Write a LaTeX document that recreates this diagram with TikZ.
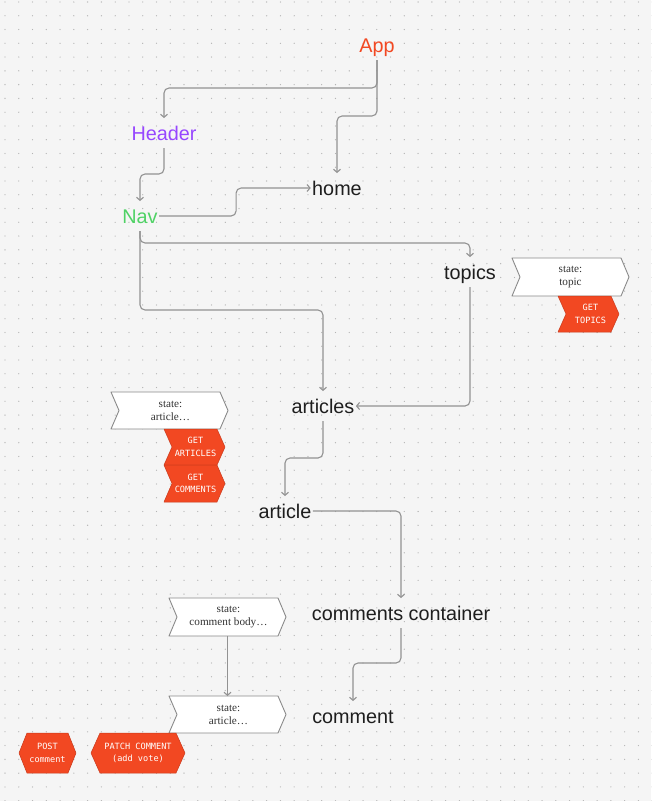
\documentclass[tikz,border=0pt]{standalone}
\usepackage{fontspec}
\setmainfont{Liberation Sans}
\newfontfamily\serifbox{Liberation Serif}
\newfontfamily\monotag{DejaVu Sans Mono}
\usetikzlibrary{arrows.meta,calc}
\definecolor{bgcol}{HTML}{F5F5F5}
\definecolor{dotcol}{HTML}{B4B4B4}
\definecolor{conncol}{HTML}{929292}
\definecolor{boxborder}{HTML}{8A8A8A}
\definecolor{tagred}{HTML}{F24822}
\definecolor{tagedge}{HTML}{C93A1C}
\definecolor{appcol}{HTML}{F24822}
\definecolor{headcol}{HTML}{9747FF}
\definecolor{navcol}{HTML}{4FD265}
\definecolor{txtcol}{HTML}{1E1E1E}
\definecolor{stxt}{HTML}{333333}
\newcommand\chevpath[3]{\path[#3] (#1.north west) -- ([xshift=-#2]#1.north east) -- (#1.east) -- ([xshift=-#2]#1.south east) -- (#1.south west) -- ([xshift=#2]#1.west) -- cycle;}
\newcommand\hexpath[3]{\path[#3] (#1.west) -- ([xshift=#2]#1.north west) -- ([xshift=-#2]#1.north east) -- (#1.east) -- ([xshift=-#2]#1.south east) -- ([xshift=#2]#1.south west) -- cycle;}
\tikzset{
  lbl/.style={font=\fontsize{19.8}{22}\selectfont, text=txtcol, inner xsep=1.5, inner ysep=0, text height=16, text depth=2, minimum height=30, outer sep=0},
  conn/.style={draw=conncol, line width=1.1, rounded corners=5, -{Straight Barb[length=3,width=7]}},
  shapebox/.style={draw=none, fill=none, inner sep=0, outer sep=0},
  stateshape/.style={fill=white, draw=boxborder, line width=0.9, line join=round},
  redshape/.style={fill=tagred, draw=tagedge, line width=0.5, line join=round},
  statetext/.style={font=\serifbox\fontsize{11.2}{13}\selectfont, text=stxt, align=center, inner sep=0},
  tagtext/.style={font=\monotag\fontsize{8.6}{12.5}\selectfont, text=white, align=center, inner sep=0},
}
\begin{document}
\begin{tikzpicture}[x=1pt,y=-1pt]
\useasboundingbox (0,0) rectangle (651,801);
\fill[bgcol] (0,0) rectangle (651,801);
\foreach \i in {0,...,47}{
  \foreach \j in {0,...,58}{
    \fill[dotcol] ({5+\i*13.77},{2+\j*13.77}) circle (0.65);
  }
}
% main labels
\node[lbl, text=appcol] (app) at (377,45) {App};
\node[lbl, text=headcol] (header) at (164,133) {Header};
\node[lbl, text=navcol] (nav) at (140,216) {Nav};
\node[lbl] (home) at (337,188) {home};
\node[lbl] (topics) at (470,272) {topics};
\node[lbl] (articles) at (323,406) {articles};
\node[lbl] (article) at (285,511) {article};
\node[lbl] (cc) at (401,613) {comments container};
\node[lbl] (comment) at (353,716) {comment};
% connectors
\draw[conn] (app.south) -- ++(0,28) -| (header.north);
\draw[conn] (app.south) -- ++(0,56) -| (home.north);
\draw[conn] (header.south) -- ++(0,26) -| (nav.north);
\draw[conn] (nav.east) -- ++(77,0) |- (home.west);
\draw[conn] (nav.south) -- ++(0,12) -| (topics.north);
\draw[conn] (nav.south) -- ++(0,79) -| (articles.north);
\draw[conn] (topics.south) |- (articles.east);
\draw[conn] (articles.south) -- ++(0,37) -| (article.north);
\draw[conn] (article.east) -| (cc.north);
\draw[conn] (cc.south) -- ++(0,35) -| (comment.north);
% state boxes
\node[shapebox, minimum width=117, minimum height=38] (s1) at (570.5,277) {};
\chevpath{s1}{8}{stateshape}
\node[statetext] (s1t) at (s1) {state:\\topic};
\node[shapebox, minimum width=117, minimum height=37] (s2) at (169.5,410.5) {};
\chevpath{s2}{8}{stateshape}
\node[statetext] (s2t) at ([xshift=1]s2.center) {state:\\article…};
\node[shapebox, minimum width=117, minimum height=38] (s3) at (227.5,617) {};
\chevpath{s3}{8}{stateshape}
\node[statetext] (s3t) at ([xshift=1]s3.center) {state:\\comment body…};
\node[shapebox, minimum width=117, minimum height=37] (s4) at (227.5,714.5) {};
\chevpath{s4}{8}{stateshape}
\node[statetext] (s4t) at ([xshift=1]s4.center) {state:\\article…};
\draw[conn] (s3.south) -- (s4.north);
% red tags
\node[shapebox, minimum width=61, minimum height=36] (t1) at (588.5,314) {};
\chevpath{t1}{8}{redshape}
\node[tagtext] (t1t) at ([xshift=2]t1.center) {GET\\TOPICS};
\node[shapebox, minimum width=61, minimum height=36] (t2) at (194.5,447) {};
\chevpath{t2}{8}{redshape}
\node[tagtext] (t2t) at ([xshift=1]t2.center) {GET\\ARTICLES};
\node[shapebox, minimum width=61, minimum height=37] (t3) at (194.5,483.5) {};
\chevpath{t3}{8}{redshape}
\node[tagtext] (t3t) at ([xshift=1]t3.center) {GET\\COMMENTS};
\node[shapebox, minimum width=57, minimum height=40] (h1) at (47.5,753) {};
\hexpath{h1}{8}{redshape}
\node[tagtext] (h1t) at (h1) {POST\\comment};
\node[shapebox, minimum width=94, minimum height=40] (h2) at (138,753) {};
\hexpath{h2}{9}{redshape}
\node[tagtext] (h2t) at (h2) {PATCH COMMENT\\(add vote)};
\end{tikzpicture}
\end{document}
